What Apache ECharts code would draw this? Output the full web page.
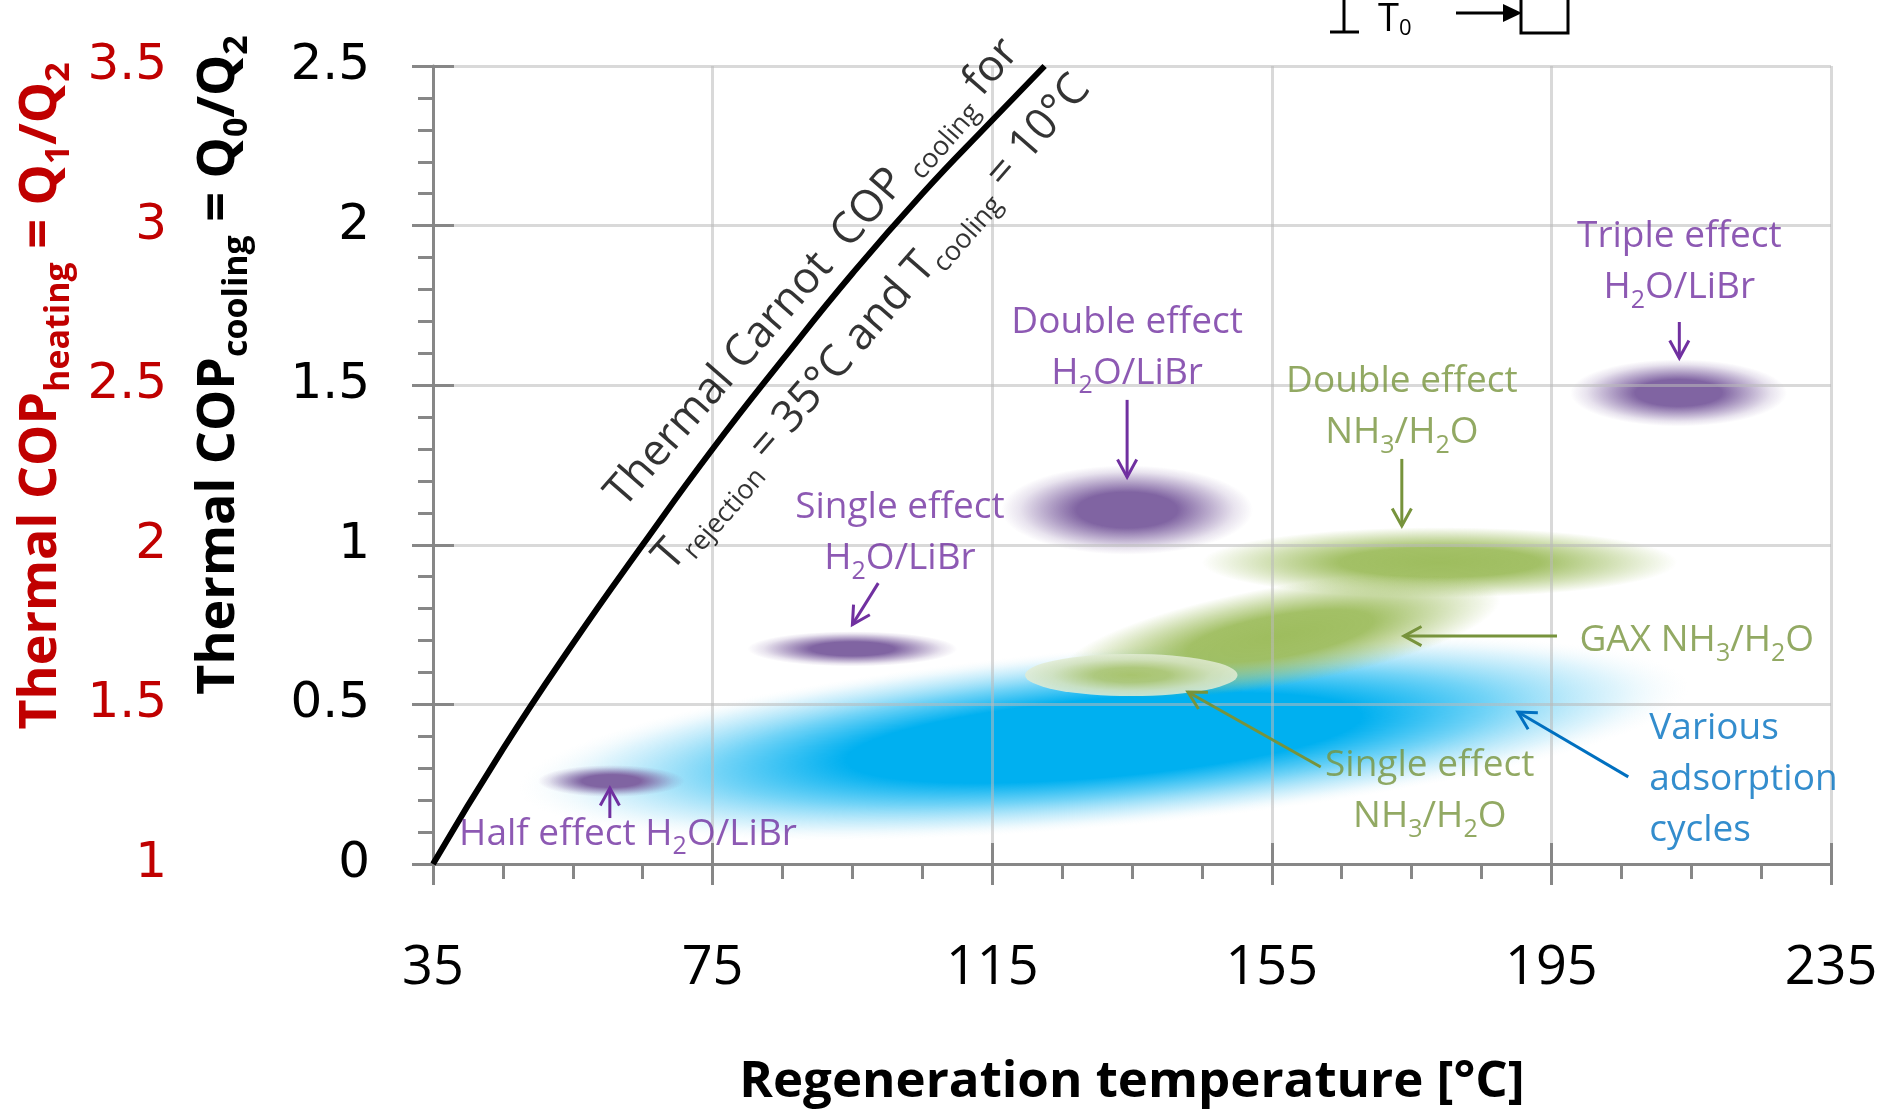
<!DOCTYPE html>
<html>
<head>
<meta charset="utf-8">
<script src="https://cdn.jsdelivr.net/npm/echarts@6/dist/echarts.min.js"></script>
<style>
  html, body { margin: 0; padding: 0; background: #fff; }
  #chart { width: 1882px; height: 1111px; }
</style>
</head>
<body>
<div id="chart"></div>
<script>
// axis ticks
const tempTicks = [35, 75, 115, 155, 195, 235];
const coolingTicks = [0, 0.5, 1, 1.5, 2, 2.5];
const heatingTicks = [1, 1.5, 2, 2.5, 3, 3.5];

// Carnot limit
const carnotTemp = [35, 45, 55, 65, 75, 85, 95, 105, 115, 122.5];
const carnotCop = [0, 0.36, 0.69, 1.0, 1.3, 1.58, 1.85, 2.1, 2.33, 2.5];

// regions: [temp centre, COP centre, half width (°C), half height (COP), tilt (deg)]
const adsorptionRegion = [[131, 0.395, 84, 0.28, 5]];
const ammoniaRegions = [[179, 0.945, 34, 0.11, 0], [156.2, 0.714, 32, 0.155, 10]];
const ammoniaSingleRegion = [[134.9, 0.592, 15.2, 0.066, 0]];
const librRegions = [[60.5, 0.26, 10.5, 0.05, 0], [95, 0.674, 15, 0.055, 0], [134.3, 1.109, 18, 0.14, 0], [213.2, 1.476, 15.5, 0.105, 0]];

// notes: [temp, COP, text]
const librNotes = [
  [62.9, 0.094, 'Half effect H{s|2}O/LiBr'],
  [101.8, 1.036, 'Single effect\nH{s|2}O/LiBr'],
  [134.3, 1.617, 'Double effect\nH{s|2}O/LiBr'],
  [213.3, 1.886, 'Triple effect\nH{s|2}O/LiBr']
];
const ammoniaNotes = [
  [173.6, 1.432, 'Double effect\nNH{s|3}/H{s|2}O'],
  [215.8, 0.699, 'GAX NH{s|3}/H{s|2}O'],
  [177.6, 0.229, 'Single effect\nNH{s|3}/H{s|2}O']
];
const adsorptionNotes = [[209.0, 0.266, 'Various\nadsorption\ncycles']];
const carnotNotes = [
  [89.3, 1.852, 'Thermal Carnot  COP {s|cooling} for'],
  [97.8, 1.695, 'T{s|rejection} = 35°C and T{s|cooling} = 10°C']
];

// arrows: [from temp, from COP, to temp, to COP]
const librArrows = [[60.3, 0.144, 60.3, 0.238], [98.7, 0.88, 95.0, 0.75], [134.3, 1.454, 134.3, 1.212], [213.3, 1.698, 213.3, 1.585]];
const ammoniaArrows = [[173.6, 1.269, 173.6, 1.059], [195.8, 0.714, 173.9, 0.714], [162.0, 0.304, 143.0, 0.539]];
const adsorptionArrows = [[206.0, 0.273, 190.2, 0.476]];

const font = 'Open Sans';
const purple = '#7030a0';
const green = '#77933c';
const blue = '#0070c0';
const red = '#c00000';
const axisGrey = '#878787';
const gridGrey = 'rgba(185,185,185,0.55)';

const purpleStops = [
  {offset: 0, color: 'rgba(128,100,162,1)'},
  {offset: 0.4, color: 'rgba(128,100,162,1)'},
  {offset: 0.62, color: 'rgba(128,100,162,0.6)'},
  {offset: 0.85, color: 'rgba(128,100,162,0.18)'},
  {offset: 1, color: 'rgba(128,100,162,0)'}
];
const greenStops = [
  {offset: 0, color: 'rgba(158,189,94,1)'},
  {offset: 0.42, color: 'rgba(158,189,94,0.95)'},
  {offset: 0.7, color: 'rgba(158,189,94,0.5)'},
  {offset: 1, color: 'rgba(158,189,94,0)'}
];
const paleGreenStops = [
  {offset: 0, color: 'rgba(168,196,110,1)'},
  {offset: 0.35, color: 'rgba(175,200,122,0.95)'},
  {offset: 0.75, color: 'rgba(212,226,190,0.9)'},
  {offset: 1, color: 'rgba(226,236,212,0.85)'}
];
const blueStops = [
  {offset: 0, color: 'rgba(0,176,240,1)'},
  {offset: 0.44, color: 'rgba(0,176,240,1)'},
  {offset: 0.66, color: 'rgba(0,176,240,0.55)'},
  {offset: 0.88, color: 'rgba(60,190,240,0.16)'},
  {offset: 1, color: 'rgba(200,230,240,0)'}
];

function regionSeries(data, stops) {
  return {
    type: 'custom',
    z: -1,
    silent: true,
    data: data,
    encode: {x: 0, y: 1},
    renderItem: function (params, api) {
      const c = api.coord([api.value(0), api.value(1)]);
      const s = api.size([api.value(2), api.value(3)]);
      return {
        type: 'circle',
        x: c[0],
        y: c[1],
        scaleX: s[0] / s[1],
        rotation: api.value(4) * Math.PI / 180,
        shape: {cx: 0, cy: 0, r: s[1]},
        style: {fill: new echarts.graphic.RadialGradient(0.5, 0.5, 0.5, stops)}
      };
    }
  };
}

function arrowSeries(data, color) {
  return {
    type: 'custom',
    z: 3,
    silent: true,
    data: data,
    encode: {x: [0, 2], y: [1, 3]},
    renderItem: function (params, api) {
      const a = api.coord([api.value(0), api.value(1)]);
      const b = api.coord([api.value(2), api.value(3)]);
      const ang = Math.atan2(b[1] - a[1], b[0] - a[0]);
      const head = 20, spread = 0.5;
      const p1 = [b[0] - head * Math.cos(ang - spread), b[1] - head * Math.sin(ang - spread)];
      const p2 = [b[0] - head * Math.cos(ang + spread), b[1] - head * Math.sin(ang + spread)];
      return {
        type: 'group',
        children: [
          {type: 'line', shape: {x1: a[0], y1: a[1], x2: b[0], y2: b[1]}, style: {stroke: color, lineWidth: 3, fill: 'none'}},
          {type: 'polyline', shape: {points: [p1, b, p2]}, style: {stroke: color, lineWidth: 3, fill: 'none'}}
        ]
      };
    }
  };
}

function noteSeries(data, color, align, extra) {
  return {
    type: 'scatter',
    z: 4,
    silent: true,
    symbolSize: 0,
    data: data.map(d => ({value: [d[0], d[1]], name: d[2]})),
    label: Object.assign({
      show: true,
      position: 'inside',
      formatter: p => p.name,
      color: color,
      fontFamily: font,
      fontSize: 37,
      lineHeight: 51,
      align: align,
      rich: {
        s: {fontFamily: font, fontSize: 25, lineHeight: 28, verticalAlign: 'bottom', color: color}
      }
    }, extra || {})
  };
}

function axisTitleStyle(color, pad) {
  return {
    fontFamily: font, fontWeight: 'bold', fontSize: 52, lineHeight: 70, color: color,
    padding: [0, 0, 0, pad],
    rich: {s: {fontFamily: font, fontWeight: 'bold', fontSize: 34, lineHeight: 30, verticalAlign: 'bottom', color: color}}
  };
}

const chart = echarts.init(document.getElementById('chart'));

const tickLine = {color: axisGrey, width: 3};

chart.setOption({
  animation: false,
  grid: {left: 433, right: 51, top: 66, bottom: 247, outerBoundsMode: 'none', containLabel: false},
  xAxis: [
    {
      type: 'value', position: 'bottom',
      min: tempTicks[0], max: tempTicks[tempTicks.length - 1], interval: tempTicks[1] - tempTicks[0],
      axisLine: {show: true, lineStyle: tickLine},
      axisTick: {show: true, length: 21, lineStyle: tickLine},
      minorTick: {show: true, splitNumber: 4, length: 15, lineStyle: tickLine},
      axisLabel: {margin: 75, fontFamily: font, fontSize: 54, lineHeight: 60, color: '#000', showMinLabel: true, showMaxLabel: true},
      splitLine: {show: true, lineStyle: {color: gridGrey, width: 3}},
      name: 'Regeneration temperature [°C]', nameLocation: 'middle', nameGap: 188,
      nameTextStyle: {fontFamily: font, fontWeight: 'bold', fontSize: 51, lineHeight: 60, color: '#000'}
    },
    {
      type: 'value', position: 'bottom',
      min: tempTicks[0], max: tempTicks[tempTicks.length - 1], interval: tempTicks[1] - tempTicks[0],
      axisLine: {show: false},
      axisTick: {show: true, inside: true, length: 21, lineStyle: tickLine},
      axisLabel: {show: false},
      splitLine: {show: false}
    }
  ],
  yAxis: [
    {
      type: 'value', position: 'left',
      min: coolingTicks[0], max: coolingTicks[coolingTicks.length - 1], interval: coolingTicks[1] - coolingTicks[0],
      axisLine: {show: true, lineStyle: tickLine},
      axisTick: {show: true, length: 21, lineStyle: tickLine},
      minorTick: {show: true, splitNumber: 5, length: 15, lineStyle: tickLine},
      axisLabel: {margin: 63, fontFamily: 'DejaVu Sans', fontSize: 50, color: '#000', showMinLabel: true, showMaxLabel: true},
      splitLine: {show: true, lineStyle: {color: gridGrey, width: 3}},
      name: 'Thermal COP{s|cooling} = Q{s|0}/Q{s|2}', nameLocation: 'middle', nameGap: 179, nameRotate: 90,
      nameTextStyle: axisTitleStyle('#000', 200)
    },
    {
      type: 'value', position: 'left',
      min: coolingTicks[0], max: coolingTicks[coolingTicks.length - 1], interval: coolingTicks[1] - coolingTicks[0],
      axisLine: {show: false},
      axisTick: {show: true, inside: true, length: 21, lineStyle: tickLine},
      axisLabel: {show: false},
      splitLine: {show: false}
    },
    {
      type: 'value', position: 'left', offset: 266,
      min: heatingTicks[0], max: heatingTicks[heatingTicks.length - 1], interval: heatingTicks[1] - heatingTicks[0],
      axisLine: {show: false},
      axisTick: {show: false},
      axisLabel: {margin: 0, fontFamily: 'DejaVu Sans', fontSize: 50, color: red, showMinLabel: true, showMaxLabel: true},
      splitLine: {show: false},
      name: 'Thermal COP{s|heating} = Q{s|1}/Q{s|2}', nameLocation: 'middle', nameGap: 91, nameRotate: 90,
      nameTextStyle: axisTitleStyle(red, 138)
    }
  ],
  series: [
    regionSeries(adsorptionRegion, blueStops),
    regionSeries(ammoniaRegions, greenStops),
    regionSeries(ammoniaSingleRegion, paleGreenStops),
    regionSeries(librRegions, purpleStops),
    {
      type: 'line',
      z: 3,
      silent: true,
      smooth: true,
      symbol: 'none',
      data: carnotTemp.map((t, i) => [t, carnotCop[i]]),
      lineStyle: {color: '#000', width: 6}
    },
    arrowSeries(librArrows, purple),
    arrowSeries(ammoniaArrows, green),
    arrowSeries(adsorptionArrows, blue),
    noteSeries(librNotes, purple, 'center'),
    noteSeries(ammoniaNotes, green, 'center'),
    noteSeries(adsorptionNotes, blue, 'left'),
    noteSeries(carnotNotes, '#000', 'center', {
      fontSize: 44, lineHeight: 56, rotate: 49,
      rich: {s: {fontFamily: font, fontSize: 27, lineHeight: 34, verticalAlign: 'bottom', color: '#000'}}
    })
  ],
  // cut-off schematic at the top edge
  graphic: [
    {type: 'line', shape: {x1: 1344, y1: 0, x2: 1344, y2: 32}, style: {stroke: '#000', lineWidth: 3}},
    {type: 'line', shape: {x1: 1330, y1: 32, x2: 1359, y2: 32}, style: {stroke: '#000', lineWidth: 3}},
    {
      type: 'text', x: 1378, y: 0,
      style: {
        text: 'T{s|0}', fontFamily: font, fontSize: 38, lineHeight: 40, fill: '#000',
        rich: {s: {fontFamily: font, fontSize: 22, lineHeight: 22, verticalAlign: 'bottom', fill: '#000'}}
      }
    },
    {type: 'line', shape: {x1: 1456, y1: 13, x2: 1506, y2: 13}, style: {stroke: '#000', lineWidth: 3}},
    {type: 'polygon', shape: {points: [[1503, 4], [1522, 13], [1503, 22]]}, style: {fill: '#000'}},
    {type: 'rect', shape: {x: 1521, y: -5, width: 47, height: 38}, style: {fill: 'none', stroke: '#000', lineWidth: 3}}
  ]
});
</script>
</body>
</html>
